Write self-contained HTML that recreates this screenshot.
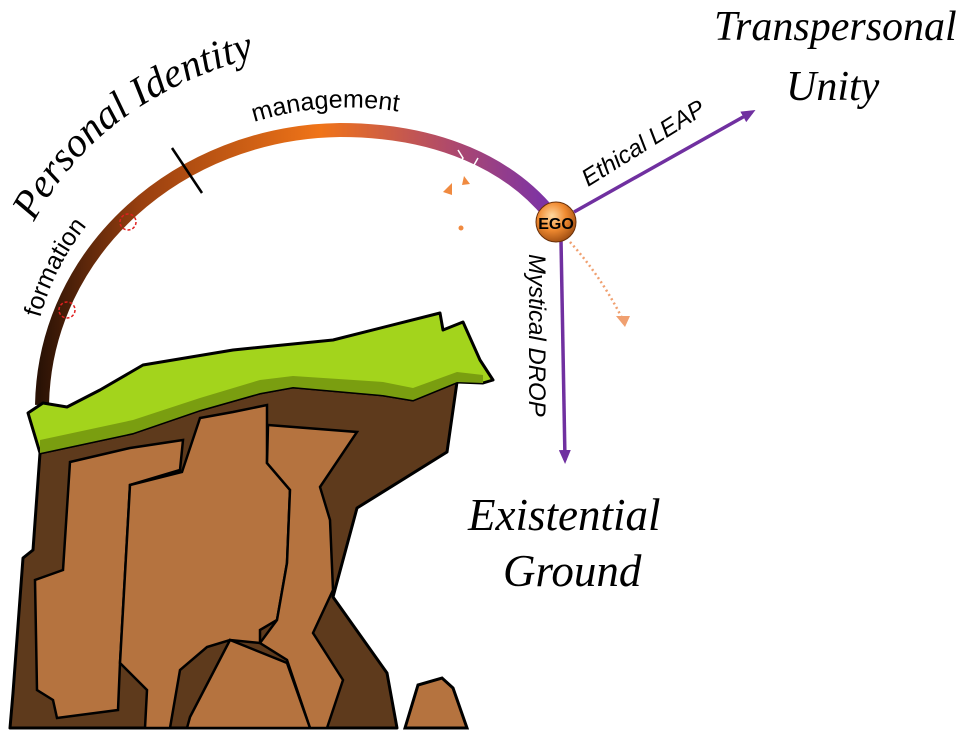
<!DOCTYPE html>
<html><head><meta charset="utf-8"><style>
html,body{margin:0;padding:0;background:#fff;}
svg{display:block;}
.serif{font-family:"Liberation Serif",serif;font-style:italic;}
.sans{font-family:"Liberation Sans",sans-serif;}
</style></head><body>
<svg width="973" height="732" viewBox="0 0 973 732" xmlns="http://www.w3.org/2000/svg">
<defs>
<linearGradient id="arc" x1="40" y1="0" x2="550" y2="0" gradientUnits="userSpaceOnUse">
<stop offset="0" stop-color="#2a1205"/>
<stop offset="0.2" stop-color="#9a4010"/>
<stop offset="0.55" stop-color="#f07418"/>
<stop offset="0.8" stop-color="#b04a6a"/>
<stop offset="1" stop-color="#7a32a8"/>
</linearGradient>
<radialGradient id="ego" cx="0.4" cy="0.35" r="0.7">
<stop offset="0" stop-color="#ffd9a0"/>
<stop offset="0.5" stop-color="#f08a30"/>
<stop offset="1" stop-color="#9a4a10"/>
</radialGradient>
<marker id="ah" markerWidth="14" markerHeight="12" refX="10" refY="6" orient="auto" markerUnits="userSpaceOnUse">
<path d="M0,0 L14,6 L0,12 Z" fill="#7030a0"/>
</marker>
<path id="p1" d="M34,222 Q105,88 285,50"/>
<path id="p2" d="M40,318 Q62,240 122,190"/>
<path id="p3" d="M254,122 Q345,94 436,120"/>
</defs>

<!-- rock body -->
<polygon points="40,453 33,550 23,558 13,693 10,728 397,728 387,673 333,597 357,508 447,452 457,382 413,400 383,395 293,387 260,393 200,410 133,433" fill="#5e3a1c" stroke="#000" stroke-width="3" stroke-linejoin="round"/>
<polygon points="70,462 130,448 183,440 180,470 130,485 120,663 118,710 57,718 53,700 37,690 35,580 63,570" fill="#b5733f" stroke="#000" stroke-width="2.5"/>
<polygon points="130,485 182,472 200,418 233,412 267,405 267,463 290,490 287,563 277,620 260,630 260,643 230,640 207,647 180,670 170,728 145,728 147,690 120,663" fill="#b5733f" stroke="#000" stroke-width="2.5"/>
<polygon points="268,425 357,432 320,487 330,520 333,590 313,633 343,680 327,728 310,728 287,660 260,643 277,620 287,563 290,490 267,463" fill="#b5733f" stroke="#000" stroke-width="2.5"/>
<polygon points="190,717 230,640 287,663 310,728 187,728" fill="#b5733f" stroke="#000" stroke-width="2.5"/>
<polygon points="405,728 418,685 442,678 453,688 467,728" fill="#b5733f" stroke="#000" stroke-width="3"/>

<!-- arc -->
<path d="M42,405 C45,250 180,132 340,130 C440,130 510,165 550,214" fill="none" stroke="url(#arc)" stroke-width="14"/>
<line x1="172" y1="148" x2="202" y2="193" stroke="#000" stroke-width="2.5"/>
<circle cx="128" cy="222" r="8" fill="none" stroke="#e02020" stroke-width="1.5" stroke-dasharray="3 2"/>
<circle cx="67" cy="310" r="8" fill="none" stroke="#e02020" stroke-width="1.5" stroke-dasharray="3 2"/>
<path d="M458,150 l5,8 -4,6 5,8" stroke="#fff" stroke-width="1.5" fill="none"/>
<path d="M478,158 l-4,7 5,6 -3,8" stroke="#fff" stroke-width="1.5" fill="none"/>
<polygon points="443,192 452,183 452,195" fill="#f08a40"/>
<polygon points="464,176 470,184 462,185" fill="#f08a40"/>
<circle cx="461" cy="228" r="2.5" fill="#f08a40"/>

<!-- grass -->
<polygon points="28,413 43,403 67,407 100,390 143,365 233,350 333,340 440,313 443,330 463,322 480,360 493,380 483,383 457,382 413,400 383,395 293,387 260,393 200,410 133,433 40,453" fill="#a3d41c" stroke="#000" stroke-width="3" stroke-linejoin="round"/>
<polygon points="40,440 133,420 200,398 260,380 293,376 383,382 413,388 457,372 483,375 483,383 457,382 413,400 383,395 293,387 260,393 200,410 133,433 40,453" fill="#7a9e10"/>

<!-- arrows -->
<line x1="574" y1="212" x2="752" y2="112" stroke="#7030a0" stroke-width="3.5" marker-end="url(#ah)"/>
<line x1="561" y1="240" x2="565" y2="460" stroke="#7030a0" stroke-width="3.5" marker-end="url(#ah)"/>
<path d="M570,242 Q600,275 622,318" fill="none" stroke="#f0a070" stroke-width="2.5" stroke-dasharray="2 3"/>
<polygon points="616,316 630,316 625,327" fill="#f0a070"/>
<circle cx="556" cy="222" r="20" fill="url(#ego)" stroke="#6a3008" stroke-width="1"/>
<text x="556" y="229" text-anchor="middle" font-family="Liberation Sans,sans-serif" font-weight="bold" font-size="16" fill="#000">EGO</text>

<!-- labels -->
<text class="serif" font-size="41" fill="#000"><textPath href="#p1">Personal Identity</textPath></text>
<text class="sans" font-size="25" fill="#000"><textPath href="#p2">formation</textPath></text>
<text class="sans" font-size="25" fill="#000"><textPath href="#p3">management</textPath></text>
<text class="serif" font-size="42" x="714" y="40">Transpersonal</text>
<text class="serif" font-size="42" x="786" y="100">Unity</text>
<text class="serif" font-size="45" x="468" y="530">Existential</text>
<text class="serif" font-size="45" x="503" y="586">Ground</text>
<text class="sans" font-style="italic" font-size="24" transform="translate(588,187) rotate(-32)">Ethical LEAP</text>
<text class="sans" font-style="italic" font-size="24" transform="translate(529,254) rotate(90)">Mystical DROP</text>
</svg>
</body></html>
